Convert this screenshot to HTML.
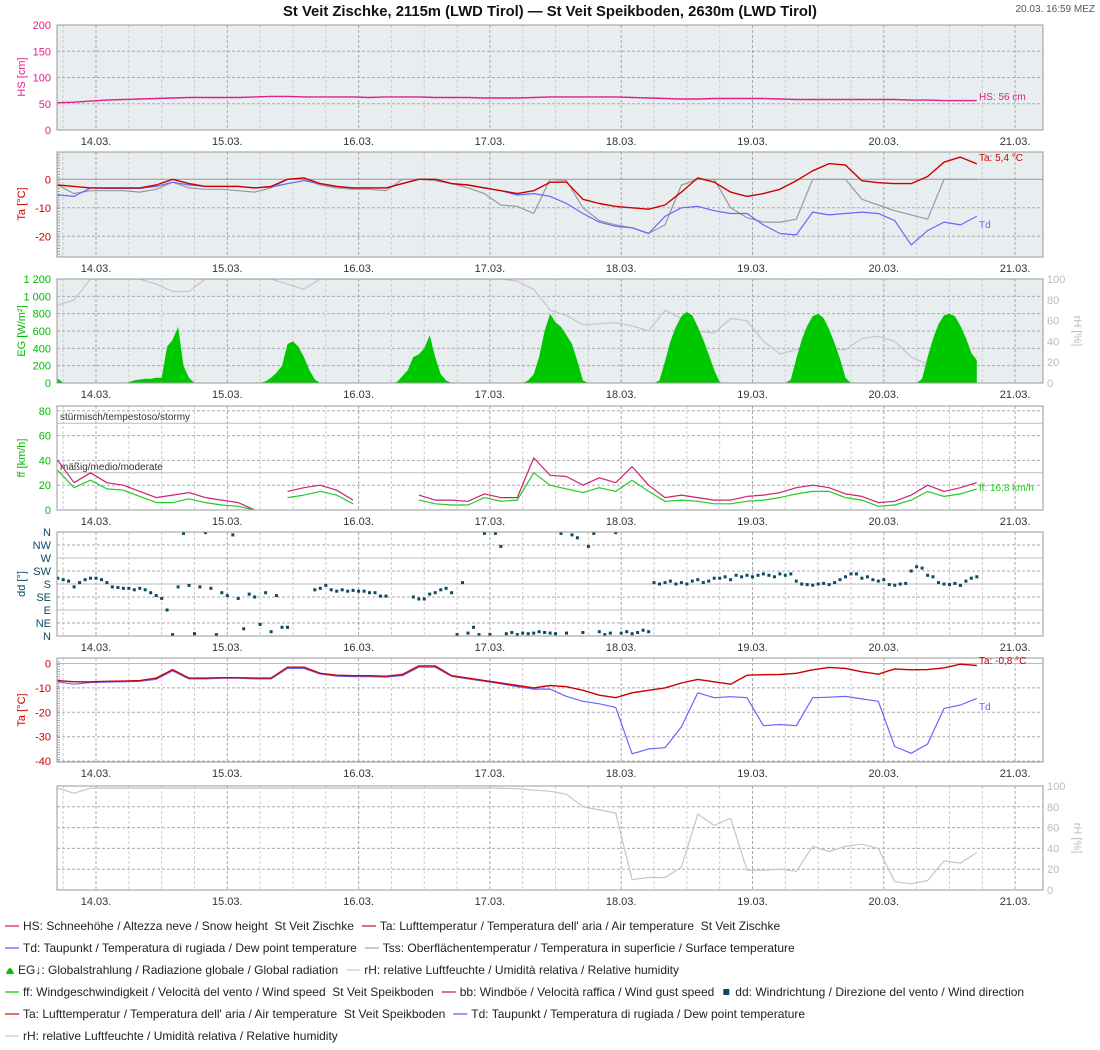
<!DOCTYPE html>
<html><head><meta charset="utf-8"><style>
html,body{margin:0;padding:0;background:#fff;}
svg{display:block;font-family:"Liberation Sans",sans-serif;}
text{white-space:pre;}
</style></head><body>
<svg id="chart" width="1100" height="1050" viewBox="0 0 1100 1050" xmlns="http://www.w3.org/2000/svg">
<text x="550" y="16" text-anchor="middle" font-size="14.8" font-weight="bold" fill="#111">St Veit Zischke, 2115m (LWD Tirol) — St Veit Speikboden, 2630m (LWD Tirol)</text>
<text x="1095" y="12" text-anchor="end" font-size="10" fill="#555">20.03. 16:59 MEZ</text>
</svg>
<script>
// ---- data (3-hour steps from h=-7 relative to 14.03 00:00) ----
const H0 = -7, STEP = 3;
const dayLabels = ["14.03.","15.03.","16.03.","17.03.","18.03.","19.03.","20.03.","21.03."];
const hs = [52,53,55,57,58,59,60,61, 62,62,62,62,63,64,64,63, 63,63,63,62,63,63,63,62, 62,62,61,61,61,62,63,63, 63,63,63,62,61,60,59,59, 60,60,60,60,59,58,58,58, 58,58,58,58,57,57,56,56, 56];
const ta1 = [-2,-2.5,-3,-3,-3,-3,-2,0, -1.5,-2.5,-2.5,-2.5,-3,-2.5,0,0.5, -1.5,-2.5,-3,-3,-3,-1.5,0,0, -1.5,-2,-3,-4,-5,-4,-1,-1, -7,-8.5,-9.5,-10,-10.5,-9,-4.5,0.5, -1,-4.5,-6,-5,-3.5,-0.5,3,5.5, 5,-0.5,-1.2,-1.5,-1.5,1,6,7.8, 5.4];
const td1 = [-5.5,-6,-3,-3.2,-3.2,-3.2,-2.5,-1, -2,-2.5,-2.5,-2.5,-3,-2.7,-1.5,-0.5, -1.5,-2.5,-3,-3,-3,-1.5,0,0, -1.5,-2,-3,-4,-5.5,-5,-6,-8.5, -12,-15,-16.5,-17,-19,-13,-10,-9.5, -11,-12,-12,-16,-19,-19.5,-11.5,-12.5, -12,-11.5,-12,-14.5,-23,-18,-15,-16, -13];
const tss = [-2,-5,-4,-4,-4,-4.5,-3.5,-1, -3,-3.5,-3.5,-4,-4.5,-3,0,0, -2,-3,-3.5,-3.5,-4,0,0,-0.5, -1.5,-3,-5,-9,-9.5,-12,0,-0.5, -10,-14.5,-16,-17,-19,-16,-2,0, 0,-10,-13.5,-15,-15,-14,0,0, 0,-7,-9,-11,-12.5,-14,0,0, 0];
const rh1 = [75,80,100,100,100,100,95,88, 88,100,100,100,100,100,95,90, 100,100,100,100,100,100,100,100, 100,100,100,100,98,90,70,65, 56,57,58,55,50,70,62,50, 48,62,60,40,28,32,33,32, 32,43,45,40,25,18,20,22, 25];
const ff = [32,18,24,17,16,11,6,6, 9,6,4,3,0,null,10,12, 15,12,5,null,6,null,8,5, 4,4,10,7,8,30,20,17, 14,18,15,24,15,7,8,7, 5,5,7,8,10,13,15,15, 10,8,3,4,8,15,11,13, 17];
const bb = [40,22,30,22,20,15,10,12, 14,10,8,6,0,null,15,18, 20,16,8,null,14,null,12,8, 8,7,13,10,10,42,28,27, 20,26,22,35,20,10,12,10, 8,8,11,12,14,18,20,18, 13,11,6,7,12,20,15,18, 22];
const ta2 = [-7,-7.5,-7.5,-7.3,-7.2,-7,-6,-2.5, -6,-6,-5.8,-5.8,-6,-6,-1.5,-1.5, -4,-4.8,-5,-5,-5.2,-4.5,-1,-1, -5,-6,-7,-8,-9,-10,-9,-9.5, -11,-13,-14,-12,-11,-10,-8,-6.5, -7.5,-8.5,-4.8,-4.6,-4.5,-4,-2.6,-1.6, -2,-3.4,-4.4,-2.2,-2.6,-2.5,-1.8,-0.3, -0.8];
const td2 = [-7.5,-8.5,-7.8,-7.6,-7.5,-7.3,-6.5,-3, -6.3,-6.3,-6,-6,-6.3,-6.3,-2,-2, -4.3,-5.2,-5.4,-5.4,-5.6,-5,-1.5,-1.5, -5.3,-6.3,-7.3,-8.3,-9.5,-10.5,-10.5,-13.5, -15.5,-16.5,-18,-37,-35,-34.5,-26,-12, -14,-13.6,-14,-25.5,-25,-25.5,-14,-13.8, -13.5,-14.5,-15.5,-34,-36.8,-33,-18.4,-17, -14.3];
const rh2 = [98,93,98,98,98,98,98,98, 98,98,98,98,98,98,98,98, 98,98,98,98,98,98,98,98, 98,98,98,98,97.5,96,95,92, 80,77,74,10,12,12,22,73, 62,69,19,19,20,18,42,37, 42,44,40,8,6,9,28,26, 36];
// hourly global radiation from 13.03 17:00
const eg = [50,5,0,0,0,0,0,
 0,0,0,0,0,0,10,30,40,50,50,60,60,420,500,650,200,60,0,0,0,0,0,0,
 0,0,0,0,0,0,0,20,60,120,200,450,480,420,300,150,40,0,0,0,0,0,0,0,
 0,0,0,0,0,0,0,10,80,150,300,330,400,550,300,100,30,0,0,0,0,0,0,0,
 0,0,0,0,0,0,0,30,100,300,600,800,700,650,550,450,250,30,0,0,0,0,0,0,
 0,0,0,0,0,0,0,30,250,480,650,770,820,780,650,500,330,150,10,0,0,0,0,0,
 0,0,0,0,0,0,0,40,280,500,660,770,800,750,620,460,280,60,0,0,0,0,0,0,
 0,0,0,0,0,0,0,50,300,510,680,780,800,770,660,520,350,260];
// hourly wind direction (degrees) from 13.03 17:00
const dd = [200,195,190,170,185,195,200,
 200,195,185,170,168,165,165,160,165,160,150,140,130,90,5,170,355,175,8,170,358,165,5,150,
 140,350,130,25,145,135,40,150,15,140,30,30,null,null,null,null,160,165,175,160,155,160,155,158,
 155,155,150,150,138,138,null,null,null,null,135,128,128,145,150,160,165,150,5,185,10,30,5,355,
 5,355,310,8,12,5,10,8,10,15,12,10,8,355,10,350,340,12,310,355,15,5,10,358,
 10,15,8,12,20,15,185,180,185,190,180,185,180,190,195,185,190,200,200,205,195,210,205,210,
 205,210,215,210,205,215,210,215,190,180,178,176,180,182,178,185,195,205,215,215,200,205,195,190,
 195,178,176,180,182,225,240,235,210,205,185,180,178,182,175,190,200,205];

const NS = 'http://www.w3.org/2000/svg';
const svg = document.getElementById('chart');
function X(h){ return 96 + h*131.3/24; }
function mk(tag, attrs, parent){
  const e = document.createElementNS(NS, tag);
  for (const k in attrs) e.setAttribute(k, attrs[k]);
  (parent||svg).appendChild(e);
  return e;
}
function txt(s, attrs, parent){ const t = mk('text', attrs, parent); t.textContent = s; return t; }

const L = 57, R = 1043;
const panels = [
 {id:'hs', top:25, bot:130, bg:'#e8edf0'},
 {id:'ta1', top:152, bot:257, bg:'#e8edf0'},
 {id:'eg', top:279, bot:383, bg:'#e8edf0'},
 {id:'ff', top:406, bot:510, bg:'#ffffff'},
 {id:'dd', top:532, bot:636, bg:'#ffffff'},
 {id:'ta2', top:658, bot:762, bg:'#ffffff'},
 {id:'rh2', top:786, bot:890, bg:'#ffffff'}
];
const scales = {
 hs: v => 130 - v*105/200,
 ta1: v => 179.3 - v*2.85,
 eg: v => 383 - v*104/1200,
 rh1: v => 383 - v*1.04,
 ff: v => 510 - v*1.24,
 dd: v => 636 - v*104/360,
 ta2: v => 663.5 - v*2.44,
 rh2: v => 890 - v*1.04
};
const defs = mk('defs', {});
const groups = {};
panels.forEach(p => {
  const g = mk('g', {});
  
  
  groups[p.id] = g;
  const cp = mk('clipPath', {id:'clip-'+p.id}, defs);
  mk('rect', {x:L, y:p.top, width:R-L, height:p.bot-p.top}, cp);
  const bg = mk('rect', {x:L, y:p.top, width:R-L, height:p.bot-p.top, fill:p.bg}, g);
  
  
  for (let h = -6; h <= 174; h += 6) {
    const x = X(h);
    if (x <= L || x >= R) continue;
    const mid = (h % 24 === 0);
    mk('line', {x1:x, x2:x, y1:p.top, y2:p.bot, stroke: mid ? '#a8a8a8' : '#cfcfcf', 'stroke-dasharray':'3,2', 'stroke-width':1}, g);
  }
  dayLabels.forEach((lab, i) => {
    const t = txt(lab, {x:X(24*i), y:p.bot+15, 'text-anchor':'middle', 'font-size':11, fill:'#333'}, g);
    
    
  });
});

function hline(g, y, dashed, color){
  mk('line', {x1:L, x2:R, y1:y, y2:y, stroke:color||'#aaa', 'stroke-dasharray': dashed ? '3,2' : 'none', 'stroke-width':1}, g);
}
function ylabel(g, s, y, color){
  const t = txt(s, {x:51, y:y+4, 'text-anchor':'end', 'font-size':11, fill:color}, g);
  
  
}
function rlabel(g, s, y){
  const t = txt(s, {x:1047, y:y+4, 'font-size':11, fill:'#bbb'}, g);
  
  
}
function ytitle(g, s, cy, color, name){
  const t = txt(s, {x:0, y:0, transform:'translate(25,'+cy+') rotate(-90)', 'text-anchor':'middle', 'font-size':11, fill:color}, g);
  
  
}
function rtitle(g, cy, name){
  const t = txt('rH [%]', {x:0, y:0, transform:'translate(1074,'+cy+') rotate(90)', 'text-anchor':'middle', 'font-size':11, fill:'#bbb'}, g);
  
  
}
function minorTicks(g, top, bot, step){
  for (let y = bot; y >= top; y -= step) mk('line', {x1:L, x2:L+3, y1:y, y2:y, stroke:'#999', 'stroke-width':0.8}, g);
}

[0,50,100,150,200].forEach(v => { hline(groups.hs, scales.hs(v), true); ylabel(groups.hs, String(v), scales.hs(v), '#e0208c'); });
ytitle(groups.hs, 'HS [cm]', 77, '#e0208c', 'y-axis-title-hs');
[0,-10,-20].forEach(v => { hline(groups.ta1, scales.ta1(v), v!==0, v===0?'#999':'#aaa'); ylabel(groups.ta1, String(v), scales.ta1(v), '#cc0000'); });
minorTicks(groups.ta1, 152, 257, 2.85);
ytitle(groups.ta1, 'Ta [°C]', 204, '#cc0000', 'y-axis-title-ta1');
[0,200,400,600,800,1000,1200].forEach(v => { hline(groups.eg, scales.eg(v), true); ylabel(groups.eg, v>=1000 ? (Math.floor(v/1000)+' '+String(v%1000).padStart(3,'0')) : String(v), scales.eg(v), '#00bb00'); });
[0,20,40,60,80,100].forEach(v => rlabel(groups.eg, String(v), scales.rh1(v)));
ytitle(groups.eg, 'EG [W/m²]', 331, '#00bb00', 'y-axis-title-eg');
rtitle(groups.eg, 331, 'right-axis-title-rh1');
[0,20,40,60,80].forEach(v => { hline(groups.ff, scales.ff(v), true); ylabel(groups.ff, String(v), scales.ff(v), '#00bb00'); });
[70,30].forEach(v => hline(groups.ff, scales.ff(v), false, '#bbb'));
ytitle(groups.ff, 'ff [km/h]', 458, '#00bb00', 'y-axis-title-ff');
{
  const t1 = txt('stürmisch/tempestoso/stormy', {x:60, y:420, 'font-size':10, fill:'#333'}, groups.ff);
  
  
  const t2 = txt('mäßig/medio/moderate', {x:60, y:470, 'font-size':10, fill:'#333'}, groups.ff);
  
  
}
const ddLabels = ['N','NE','E','SE','S','SW','W','NW','N'];
ddLabels.forEach((s, i) => { const v = i*45; hline(groups.dd, scales.dd(v), !(v===90||v===180||v===270), (v===90||v===180||v===270)?'#bbb':'#aaa'); ylabel(groups.dd, s, scales.dd(v), '#0b4a63'); });
ytitle(groups.dd, 'dd [°]', 584, '#0b4a63', 'y-axis-title-dd');
[0,-10,-20,-30,-40].forEach(v => { hline(groups.ta2, scales.ta2(v), v!==0, v===0?'#bbb':'#aaa'); ylabel(groups.ta2, String(v), scales.ta2(v), '#cc0000'); });
minorTicks(groups.ta2, 660, 762, 2.44);
ytitle(groups.ta2, 'Ta [°C]', 710, '#cc0000', 'y-axis-title-ta2');
[0,20,40,60,80,100].forEach(v => { hline(groups.rh2, scales.rh2(v), true); rlabel(groups.rh2, String(v), scales.rh2(v)); });
rtitle(groups.rh2, 838, 'right-axis-title-rh2');

function linePath(arr, sc, h0, step){
  let d = '', pen = false;
  arr.forEach((v, i) => {
    if (v === null) { pen = false; return; }
    d += (pen ? 'L' : 'M') + X(h0 + i*step).toFixed(1) + ',' + sc(v).toFixed(1);
    pen = true;
  });
  return d;
}
function series(pid, arr, sc, color, name, width){
  const p = mk('path', {d:linePath(arr, sc, H0, STEP), fill:'none', stroke:color, 'stroke-width':width||1.2, 'clip-path':'url(#clip-'+pid+')', 'stroke-linejoin':'round'}, groups[pid]);
  
  
  return p;
}
series('hs', hs, scales.hs, '#e0208c', 'hs-line', 1.4);
series('ta1', tss, scales.ta1, '#999999', 'tss-line');
series('ta1', td1, scales.ta1, '#6666ff', 'td1-line');
series('ta1', ta1, scales.ta1, '#cc0000', 'ta1-line', 1.4);
series('eg', rh1, scales.rh1, '#c4c4d2', 'rh1-line');
{
  let d = 'M' + X(H0).toFixed(1) + ',' + scales.eg(0);
  eg.forEach((v, i) => { d += 'L' + X(H0 + i).toFixed(1) + ',' + scales.eg(v).toFixed(1); });
  d += 'L' + X(H0 + eg.length - 1).toFixed(1) + ',' + scales.eg(0) + 'Z';
  const a = mk('path', {d:d, fill:'#00c800', stroke:'none', 'clip-path':'url(#clip-eg)'}, groups.eg);
  
  
}
series('ff', bb, scales.ff, '#cc2277', 'bb-line');
series('ff', ff, scales.ff, '#22cc22', 'ff-line');
dd.forEach((v, i) => {
  if (v === null) return;
  const r = mk('rect', {x:(X(H0+i)-1.5).toFixed(1), y:(scales.dd(v)-1.5).toFixed(1), width:3, height:3, fill:'#0b4a63', 'clip-path':'url(#clip-dd)'}, groups.dd);
  
  
});
series('ta2', td2, scales.ta2, '#6666ff', 'td2-line');
series('ta2', ta2, scales.ta2, '#cc0000', 'ta2-line', 1.4);
series('rh2', rh2, scales.rh2, '#c4c4d2', 'rh2-line');

panels.forEach(p => {
  const b = mk('rect', {x:L, y:p.top, width:R-L, height:p.bot-p.top, fill:'none', stroke:'#999', 'stroke-width':1}, groups[p.id]);
  
  
});

function endLabel(pid, s, y, color, name){
  const t = txt(s, {x:979, y:y, 'font-size':10, fill:color}, groups[pid]);
  
  
}
endLabel('hs', 'HS: 56 cm', 100, '#e0208c', 'hs-last-value');
endLabel('ta1', 'Ta: 5,4 °C', 161, '#cc0000', 'ta1-last-value');
endLabel('ta1', 'Td', 228, '#6666ff', 'td1-label');
endLabel('ff', 'ff: 16,8 km/h', 491, '#22cc22', 'ff-last-value');
endLabel('ta2', 'Ta: -0,8 °C', 664, '#cc0000', 'ta2-last-value');
endLabel('ta2', 'Td', 710, '#6666ff', 'td2-label');

const legendRows = [
 [['line','#ee6aa8','HS: Schneehöhe / Altezza neve / Snow height  St Veit Zischke'],['line','#e07070',"Ta: Lufttemperatur / Temperatura dell' aria / Air temperature  St Veit Zischke"]],
 [['line','#9999ff','Td: Taupunkt / Temperatura di rugiada / Dew point temperature'],['line','#c8c8c8','Tss: Oberflächentemperatur / Temperatura in superficie / Surface temperature']],
 [['bell','#00c000','EG↓: Globalstrahlung / Radiazione globale / Global radiation'],['line','#dcdce4','rH: relative Luftfeuchte / Umidità relativa / Relative humidity']],
 [['line','#66dd66','ff: Windgeschwindigkeit / Velocità del vento / Wind speed  St Veit Speikboden'],['line','#dd6fa8',"bb: Windböe / Velocità raffica / Wind gust speed"],['sq','#0b4a63','dd: Windrichtung / Direzione del vento / Wind direction']],
 [['line','#e07070',"Ta: Lufttemperatur / Temperatura dell' aria / Air temperature  St Veit Speikboden"],['line','#9999ff','Td: Taupunkt / Temperatura di rugiada / Dew point temperature']],
 [['line','#dcdce4','rH: relative Luftfeuchte / Umidità relativa / Relative humidity']]
];
const lg = mk('g', {});


legendRows.forEach((row, r) => {
  const cy = 926 + r*22;
  let x = 5;
  row.forEach(item => {
    const g = mk('g', {}, lg);
    
    
    if (item[0] === 'line') mk('line', {x1:x, x2:x+14, y1:cy, y2:cy, stroke:item[1], 'stroke-width':2}, g);
    else if (item[0] === 'bell') mk('path', {d:'M'+(x+1)+','+(cy+4)+' Q'+(x+5)+','+(cy-8)+' '+(x+9)+','+(cy+4)+'Z', fill:item[1]}, g);
    else mk('rect', {x:x+1, y:cy-3, width:6, height:6, fill:item[1]}, g);
    const tx = x + (item[0]==='line' ? 18 : 13);
    const t = txt(item[2], {x:tx, y:cy+4, 'font-size':12, fill:'#222'}, g);
    x = tx + t.getComputedTextLength() + 8;
  });
});
</script>
</body></html>
